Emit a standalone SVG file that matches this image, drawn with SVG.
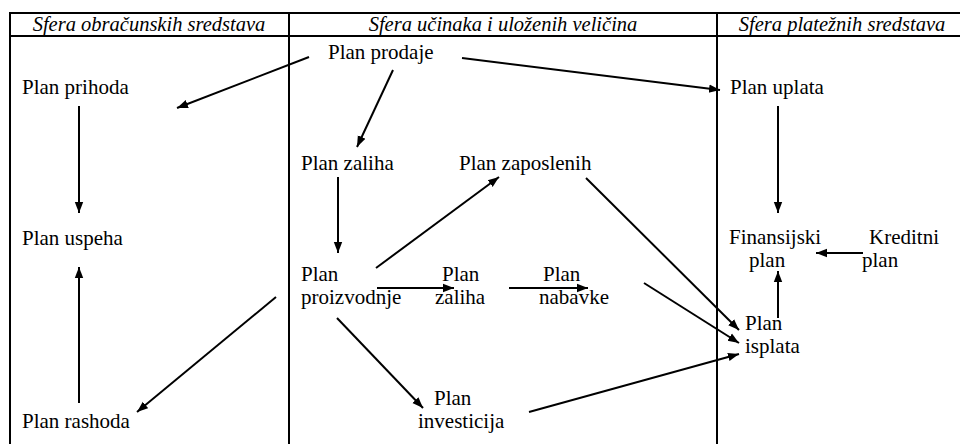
<svg xmlns="http://www.w3.org/2000/svg" width="960" height="444" viewBox="0 0 960 444" font-family="'Liberation Serif', Tinos, 'Times New Roman', Times, serif">
  <style>
    text { font-family: 'Liberation Serif', Tinos, 'Times New Roman', Times, serif; font-size: 21px; fill: #000; }
    .hdr { font-style: italic; text-anchor: middle; font-size: 20.5px; }
    .grid { stroke: #000; stroke-width: 2; fill: none; }
    .edge { stroke: #000; stroke-width: 2; fill: none; marker-end: url(#head); }
  </style>
  <defs>
    <marker id="head" markerUnits="userSpaceOnUse" markerWidth="12" markerHeight="10" refX="11" refY="5" orient="auto">
      <path d="M0,0.8 L11,5 L0,9.2 Z" fill="#000"/>
    </marker>
  </defs>

  <!-- table frame: header band and three column dividers -->
  <g id="table">
    <line class="grid" x1="9" y1="13" x2="960" y2="13"/>
    <line class="grid" x1="9" y1="36" x2="960" y2="36"/>
    <line class="grid" x1="10" y1="12" x2="10" y2="444"/>
    <line class="grid" x1="289" y1="12" x2="289" y2="444"/>
    <line class="grid" x1="717" y1="12" x2="717" y2="444"/>
    <text class="hdr" x="149" y="31">Sfera obračunskih sredstava</text>
    <text class="hdr" x="503" y="31">Sfera učinaka i uloženih veličina</text>
    <text class="hdr" x="842" y="31">Sfera platežnih sredstava</text>
  </g>

  <!-- nodes -->
  <g id="plan-prodaje"><text x="328" y="59">Plan prodaje</text></g>
  <g id="plan-prihoda"><text x="22" y="94">Plan prihoda</text></g>
  <g id="plan-uplata"><text x="730" y="94">Plan uplata</text></g>
  <g id="plan-zaliha"><text x="301" y="170">Plan zaliha</text></g>
  <g id="plan-zaposlenih"><text x="459" y="170">Plan zaposlenih</text></g>
  <g id="plan-uspeha"><text x="22" y="245">Plan uspeha</text></g>
  <g id="finansijski-plan"><text x="729" y="244">Finansijski</text><text x="749" y="267">plan</text></g>
  <g id="kreditni-plan"><text x="869" y="244">Kreditni</text><text x="862" y="267">plan</text></g>
  <g id="plan-proizvodnje"><text x="301" y="281">Plan</text><text x="301" y="304">proizvodnje</text></g>
  <g id="plan-zaliha-2"><text x="442" y="281">Plan</text><text x="435" y="304">zaliha</text></g>
  <g id="plan-nabavke"><text x="543" y="281">Plan</text><text x="539" y="304">nabavke</text></g>
  <g id="plan-isplata"><text x="745" y="330">Plan</text><text x="745" y="353">isplata</text></g>
  <g id="plan-investicija"><text x="434" y="405">Plan</text><text x="418" y="428">investicija</text></g>
  <g id="plan-rashoda"><text x="22" y="428">Plan rashoda</text></g>

  <!-- connectors -->
  <g id="connectors">
    <line class="edge" x1="309" y1="57" x2="177" y2="108"/>
    <line class="edge" x1="462" y1="58" x2="720" y2="90"/>
    <line class="edge" x1="393" y1="70" x2="357" y2="147"/>
    <line class="edge" x1="79" y1="106" x2="79" y2="213"/>
    <line class="edge" x1="79" y1="403" x2="79" y2="267"/>
    <line class="edge" x1="778" y1="106" x2="778" y2="213"/>
    <line class="edge" x1="863" y1="253" x2="816" y2="253"/>
    <line class="edge" x1="778" y1="318" x2="778" y2="271"/>
    <line class="edge" x1="338" y1="177" x2="338" y2="253"/>
    <line class="edge" x1="376" y1="268" x2="499" y2="177"/>
    <line class="edge" x1="377" y1="288" x2="454" y2="288"/>
    <line class="edge" x1="509" y1="288" x2="588" y2="288"/>
    <line class="edge" x1="337" y1="318" x2="423" y2="408"/>
    <line class="edge" x1="276" y1="297" x2="137" y2="412"/>
    <line class="edge" x1="586" y1="178" x2="739" y2="330"/>
    <line class="edge" x1="644" y1="283" x2="739" y2="343"/>
    <line class="edge" x1="529" y1="412" x2="739" y2="354"/>
  </g>
</svg>
